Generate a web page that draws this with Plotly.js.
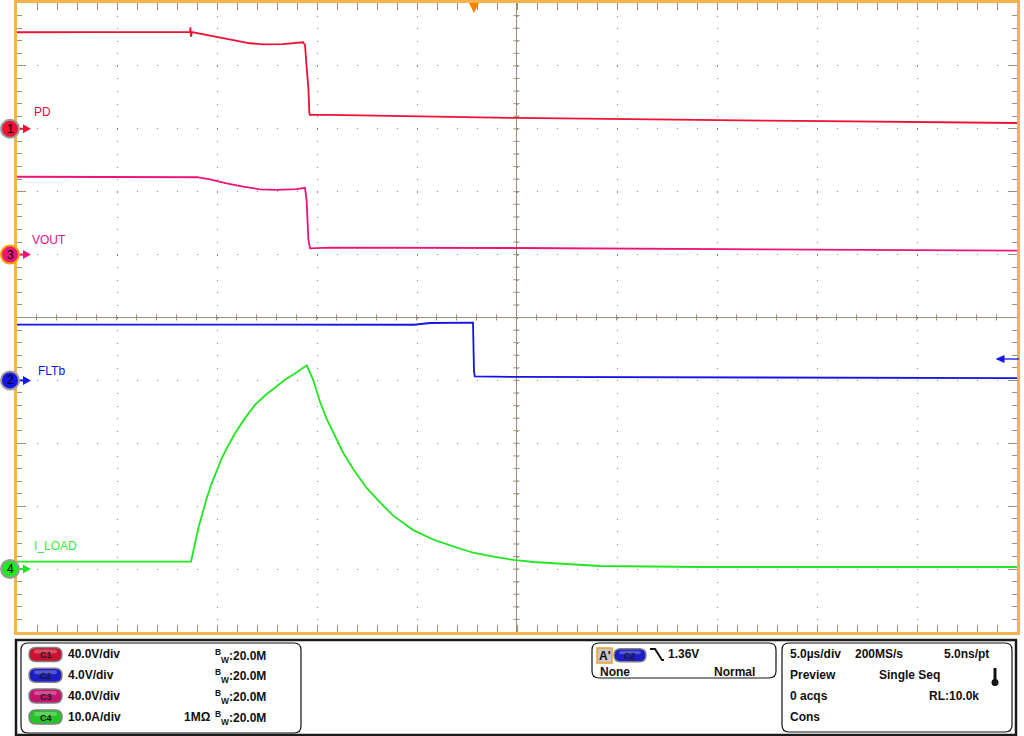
<!DOCTYPE html>
<html><head><meta charset="utf-8">
<script src="https://cdn.plot.ly/plotly-3.0.1.min.js"></script>
<style>html,body{margin:0;padding:0;background:#fff;overflow:hidden}#plot{width:1024px;height:736px}</style>
</head><body><div id="plot"></div>
<script>
// ---------------- data (read from the scope capture) ----------------
const channelNames  = ['PD', 'FLTb', 'VOUT', 'I_LOAD'];
const channelIds    = ['1', '2', '3', '4'];
const channelColors = ['#EE1133', '#1414E6', '#EC1478', '#22E622'];
const labelColors   = ['#E8102A', '#1010E0', '#E8107A', '#3CE83C'];
const channelScales = [40, 4, 40, 10];      // units per division
const channelGround = [3, -1, 1, -4];       // ground marker position, divisions from centre
const timePerDiv = 5;                       // µs/div
const timeLeft = -22.85;                    // µs at left edge (trigger at 0)
const triggerLevel = 1.36;                  // V on C2 (FLTb)

const pdTime  = [-22.85, -15.2, -14.2, -14.18, -14.15, -14.1, -13.55, -12.85, -11.85, -11.2, -10.55, -9.55, -8.55, -8.45, -8.37, -8.28, -8.23, -8.2, -7.2, 2.1, 16.3, 27.15];
const pdVolts = [61.4, 61.4, 61.7, 64.6, 58.6, 61.5, 60.1, 58.6, 56.0, 54.4, 53.7, 53.9, 55.0, 53.3, 39.5, 25.8, 9.9, 8.8, 8.8, 6.9, 5.0, 3.7];

const fltTime  = [-22.85, -14.2, -8.7, -7.0, -3.0, -2.2, -0.05, 0.0, 0.04, 2.1, 27.15];
const fltVolts = [3.55, 3.56, 3.58, 3.54, 3.54, 3.65, 3.67, 0.6, 0.25, 0.22, 0.15];

const voutTime  = [-22.85, -13.85, -13.2, -12.37, -11.54, -10.7, -9.87, -8.87, -8.45, -8.37, -8.28, -8.2, -7.2, 2.1, 27.15];
const voutVolts = [49.5, 49.2, 47.9, 45.3, 43.2, 41.5, 41.1, 41.7, 42.5, 34.7, 9.3, 4.0, 4.4, 4.2, 2.5];

const iTime = [-22.85, -14.15, -13.785, -13.365, -13.115, -12.865, -12.615, -12.365, -11.95, -11.45, -10.95, -10.45, -9.95, -9.45, -8.95, -8.365,
               -8.04, -7.7, -7.37, -6.87, -6.54, -6.04, -5.37, -4.7, -4.04, -3.04, -2.04, -1.04, -0.04, 0.97, 1.97, 2.97, 4.64, 6.3, 11.3, 27.15];
const iAmps = [1.18, 1.18, 6.49, 11.25, 13.64, 15.75, 17.6, 19.2, 21.6, 24.0, 26.1, 27.6, 28.9, 30.1, 31.1, 32.4,
               30.1, 26.6, 23.9, 20.5, 18.5, 15.9, 12.9, 10.6, 8.5, 6.2, 4.7, 3.6, 2.6, 2.0, 1.45, 1.13, 0.81, 0.49, 0.33, 0.33];

const seriesTime = [pdTime, fltTime, voutTime, iTime];
const seriesVals = [pdVolts, fltVolts, voutVolts, iAmps];

// status panel texts
const chanBadges = ['C1', 'C2', 'C3', 'C4'];
const chanBadgeColors = ['#CC1030', '#1C1CC8', '#C41470', '#26C426'];
const chanScaleText = ['40.0V/div', '4.0V/div', '40.0V/div', '10.0A/div'];
const bwText = '<sup>B</sup><sub>W</sub>:20.0M';

// ---------------- layout helpers ----------------
const X0 = 17, Y0 = 3, W = 1000, H = 629;
const px = x => (x - X0) / W;
const py = y => (Y0 + H - y) / H;
const AX = px(0), AY = py(0);
const P = (x, y) => x + ',' + (-y);
function pxShape(o) { return Object.assign({xref:'paper', yref:'paper', xsizemode:'pixel', ysizemode:'pixel', xanchor:AX, yanchor:AY}, o); }
function roundRect(x0, y0, x1, y1, r) {
  return 'M' + P(x0 + r, y0) + ' L' + P(x1 - r, y0) + ' Q' + P(x1, y0) + ' ' + P(x1, y0 + r) +
    ' L' + P(x1, y1 - r) + ' Q' + P(x1, y1) + ' ' + P(x1 - r, y1) + ' L' + P(x0 + r, y1) +
    ' Q' + P(x0, y1) + ' ' + P(x0, y1 - r) + ' L' + P(x0, y0 + r) + ' Q' + P(x0, y0) + ' ' + P(x0 + r, y0) + ' Z';
}
const FONT = 'Liberation Sans, Arial, sans-serif';
const NARROW = 'Liberation Sans Narrow, Arial Narrow, Liberation Sans, sans-serif';

const gridCol = '#8E856F', tickCol = '#9A907A', orange = '#F6B24E';
const xRange = [timeLeft, timeLeft + 10 * timePerDiv];
const xCenter = timeLeft + 5 * timePerDiv;

// ---------------- traces ----------------
const traces = [{x: [], y: [], xaxis: 'x', yaxis: 'y', showlegend: false, hoverinfo: 'skip'}];
for (let i = 0; i < 4; i++) {
  traces.push({x: seriesTime[i], y: seriesVals[i], type: 'scatter', mode: 'lines', name: channelNames[i],
    yaxis: 'y' + (i + 2), line: {color: channelColors[i], width: 1.8}, hoverinfo: 'skip', showlegend: false});
}

// ---------------- layout ----------------
const layout = {
  width: 1024, height: 736,
  margin: {l: X0, r: 1024 - X0 - W, t: Y0, b: 736 - Y0 - H, pad: 0},
  paper_bgcolor: '#FFFFFF', plot_bgcolor: '#FFFFFF',
  showlegend: false, hovermode: false, dragmode: false,
  xaxis: {range: xRange, tick0: xCenter, dtick: timePerDiv, showgrid: true, gridcolor: gridCol, gridwidth: 1,
    griddash: '1px,11.58px', showline: true, linecolor: orange, linewidth: 3, mirror: 'allticks',
    ticks: 'inside', ticklen: 7, tickcolor: tickCol, tickwidth: 1, showticklabels: false, zeroline: false, fixedrange: true,
    minor: {tick0: xCenter, dtick: timePerDiv / 5, ticks: 'inside', ticklen: 5, tickcolor: tickCol, tickwidth: 1, showgrid: false}},
  yaxis: {range: [-5, 5], tick0: 0, dtick: 1, showgrid: true, gridcolor: gridCol, gridwidth: 1,
    griddash: '1px,19px', showline: true, linecolor: orange, linewidth: 3, mirror: 'allticks',
    ticks: 'inside', ticklen: 9, tickcolor: tickCol, tickwidth: 1, showticklabels: false, zeroline: false, fixedrange: true,
    minor: {tick0: 0, dtick: 0.2, ticks: 'inside', ticklen: 5, tickcolor: tickCol, tickwidth: 1, showgrid: false}},
  shapes: [], annotations: []
};
for (let i = 0; i < 4; i++) {
  const s = channelScales[i], g = channelGround[i];
  layout['yaxis' + (i + 2)] = {overlaying: 'y', range: [(-5 - g) * s, (5 - g) * s], visible: false, fixedrange: true};
}

const shapes = layout.shapes, ann = layout.annotations;

// centre graticule cross with small ticks
(function () {
  const cx = X0 + W / 2 - 0.5, cy = Y0 + H / 2;
  let pv = 'M' + P(cx, Y0) + ' L' + P(cx, Y0 + H);
  for (let k = 1; k < 50; k++) { const y = Y0 + k * H / 50; pv += ' M' + P(cx - 3, y) + ' L' + P(cx + 3, y); }
  let ph = 'M' + P(X0, cy) + ' L' + P(X0 + W, cy);
  for (let k = 1; k < 50; k++) { const x = X0 + k * W / 50 - 0.5; ph += ' M' + P(x, cy - 3) + ' L' + P(x, cy + 3); }
  shapes.push(pxShape({type: 'path', path: pv, line: {color: tickCol, width: 1}, layer: 'below'}));
  shapes.push(pxShape({type: 'path', path: ph, line: {color: tickCol, width: 1}, layer: 'below'}));
})();

// trigger position marker (top)
shapes.push({type: 'path', xref: 'x', xsizemode: 'pixel', xanchor: 0, yref: 'paper', ysizemode: 'pixel', yanchor: 1,
  path: 'M-5,0 L5,0 L0,-10 Z', fillcolor: '#FF7F00', line: {width: 0}});

// ground markers (arrow + numbered disc), labels
const labelPos = [[33, 112.5], [37, 371], [31, 240.5], [33, 545.5]];
const ringColors = ['#9A9A9A', '#9A9A9A', '#F5A000', '#9A9A9A'];
function chanShape(yr, o) { return Object.assign({xref: 'paper', xsizemode: 'pixel', xanchor: AX, yref: yr, ysizemode: 'pixel', yanchor: 0}, o); }
for (let i = 0; i < 4; i++) {
  const yr = 'y' + (i + 2);
  shapes.push(chanShape(yr, {type: 'path', path: 'M18,0 L25,0', line: {color: channelColors[i], width: 2}}));
  shapes.push(chanShape(yr, {type: 'path', path: 'M23,4.5 L31,0 L23,-4.5 Z', fillcolor: channelColors[i], line: {width: 0}}));
  shapes.push(chanShape(yr, {type: 'circle', x0: 1, x1: 19, y0: -9, y1: 9,
    fillcolor: channelColors[i], line: {color: ringColors[i], width: 2}}));
  ann.push({xref: 'paper', x: px(10), yref: yr, y: 0, text: channelIds[i], showarrow: false,
    xanchor: 'center', yanchor: 'middle', font: {family: FONT, size: 12, color: '#000'}});
  ann.push({xref: 'paper', x: px(labelPos[i][0]), yref: 'paper', y: py(labelPos[i][1]), text: channelNames[i], showarrow: false,
    xanchor: 'left', yanchor: 'middle', borderpad: 0, font: {family: NARROW, size: 12, color: labelColors[i]}});
}
// trigger level arrow on the right edge (C2 axis)
shapes.push({xref: 'paper', xsizemode: 'pixel', xanchor: AX, yref: 'y3', ysizemode: 'pixel', yanchor: triggerLevel,
  type: 'path', path: 'M1003,0 L1019,0', line: {color: channelColors[1], width: 1.3}});
shapes.push({xref: 'paper', xsizemode: 'pixel', xanchor: AX, yref: 'y3', ysizemode: 'pixel', yanchor: triggerLevel,
  type: 'path', path: 'M995.5,0 L1004.5,4 L1004.5,-4 Z', fillcolor: channelColors[1], line: {width: 0}});

// ---------------- status panel ----------------
shapes.push(pxShape({type: 'rect', x0: 16, x1: 1016, y0: -735, y1: -640, line: {color: '#1A1A1A', width: 2.5}}));
shapes.push(pxShape({type: 'path', path: roundRect(21, 643, 301, 733, 7), line: {color: '#111', width: 1.2}}));
shapes.push(pxShape({type: 'path', path: roundRect(592, 643, 776, 678, 7), line: {color: '#111', width: 1.2}}));
shapes.push(pxShape({type: 'path', path: roundRect(782, 643, 1012, 732, 7), line: {color: '#111', width: 1.2}}));

function textAt(x, y, t, opts) {
  ann.push(Object.assign({xref: 'paper', yref: 'paper', x: px(x), y: py(y), text: t, showarrow: false,
    xanchor: 'left', yanchor: 'middle', borderpad: 0, font: {family: FONT, size: 12, color: '#111'}}, opts || {}));
}
function pill(x0, x1, cy, h, col, label) {
  shapes.push(pxShape({type: 'path', path: roundRect(x0, cy - h / 2, x1, cy + h / 2, h / 2), fillcolor: col, line: {color: '#808080', width: 1.5}}));
  shapes.push(pxShape({type: 'path', path: roundRect(x0 + 5, cy - h / 2 + 2, x1 - 5, cy - 1, 2), fillcolor: 'rgba(255,255,255,0.25)', line: {width: 0}}));
  textAt((x0 + x1) / 2, cy + 0.5, '<b>' + label + '</b>', {xanchor: 'center', font: {family: FONT, size: 9, color: '#1a1a1a'}});
}
const rowY = [654.5, 675.3, 696, 717];
for (let i = 0; i < 4; i++) {
  pill(29, 62, rowY[i], 14, chanBadgeColors[i], chanBadges[i]);
  textAt(67, rowY[i], '<b>' + chanScaleText[i] + '</b>');
  textAt(214, rowY[i] + 1, '<b>' + bwText + '</b>');
}
textAt(183, rowY[3], '<b>1MΩ</b>');

// trigger box
shapes.push(pxShape({type: 'rect', x0: 597, x1: 612, y0: -663, y1: -648, fillcolor: '#C8C8C8', line: {color: '#F0A030', width: 1.5}}));
textAt(604.5, 655.5, "<b>A'</b>", {xanchor: 'center'});
pill(614, 646, 655.3, 13, '#1C1CC8', 'C2');
shapes.push(pxShape({type: 'path', path: 'M' + P(650, 649) + ' L' + P(655, 649) + ' L' + P(662, 660) + ' L' + P(664, 660), line: {color: '#111', width: 2}}));
textAt(667, 654.5, '<b>1.36V</b>');
textAt(599, 671.7, '<b>None</b>');
textAt(756, 671.7, '<b>Normal</b>', {xanchor: 'right'});

// timebase box
textAt(789, 654.3, '<b>5.0µs/div</b>');
textAt(854, 654.3, '<b>200MS/s</b>');
textAt(943, 654.3, '<b>5.0ns/pt</b>');
textAt(789, 675, '<b>Preview</b>');
textAt(878, 675, '<b>Single Seq</b>');
textAt(789, 696, '<b>0 acqs</b>');
textAt(928, 696, '<b>RL:10.0k</b>');
textAt(789, 717.3, '<b>Cons</b>');
shapes.push(pxShape({type: 'rect', x0: 993.5, x1: 996.5, y0: -681, y1: -668, fillcolor: '#111', line: {width: 0}}));
shapes.push(pxShape({type: 'circle', x0: 991.5, x1: 998.5, y0: -686, y1: -679, fillcolor: '#111', line: {width: 0}}));

Plotly.newPlot('plot', traces, layout, {staticPlot: true, displayModeBar: false});
</script>
</body></html>
